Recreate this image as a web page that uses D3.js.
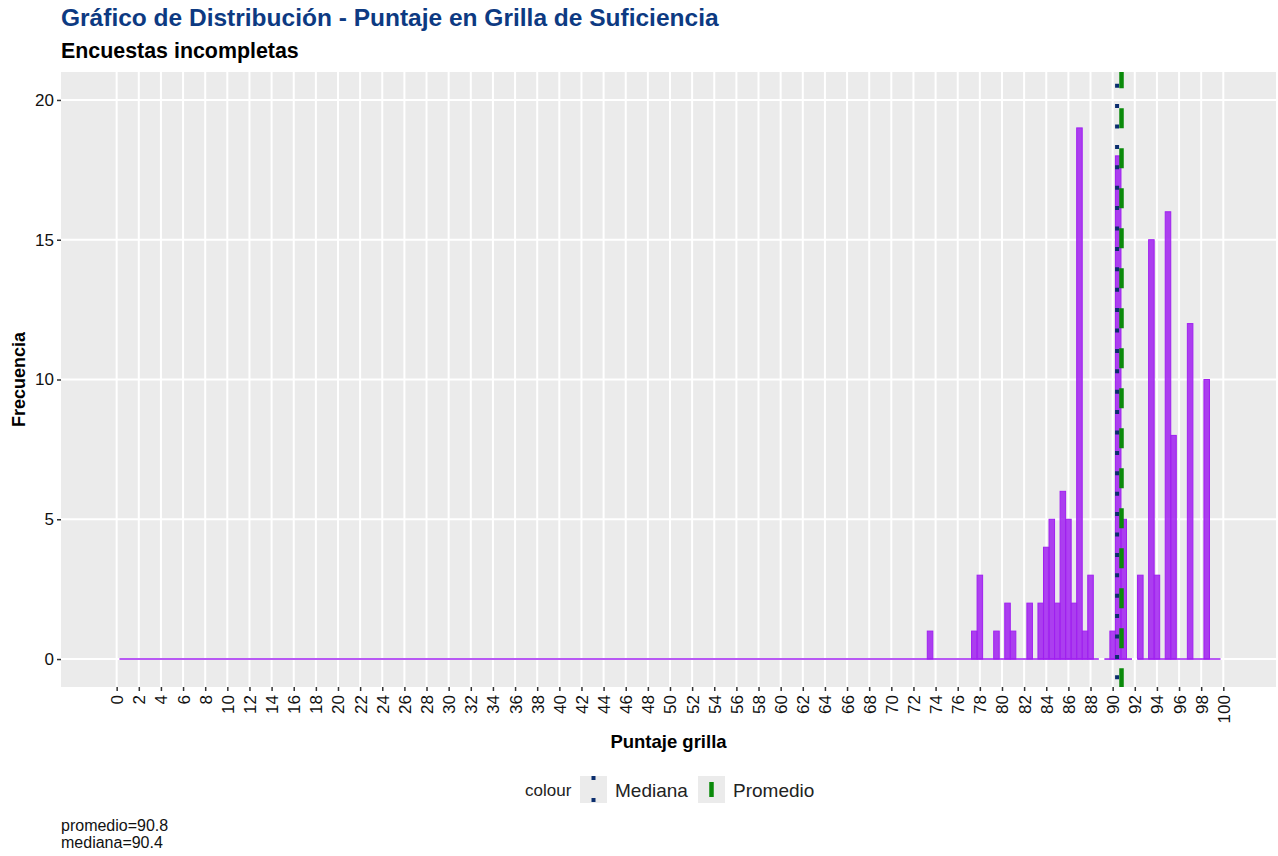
<!DOCTYPE html>
<html>
<head>
<meta charset="utf-8">
<script src="https://cdn.jsdelivr.net/npm/d3@7"></script>
<style>
body{margin:0;background:#fff;}
text{font-family:"Liberation Sans",Arial,Helvetica,sans-serif;}
</style>
</head>
<body>
<svg id="chart" width="1278" height="856"></svg>
<script>
// histogram bins (binwidth 0.5), centre value and count
const BIN_CENTERS = [73.5, 77.5, 78, 79.5, 80.5, 81, 82.5, 83.5, 84, 84.5, 85, 85.5, 86, 86.5, 87, 87.5, 88,
                     90, 90.5, 91, 92.5, 93.5, 94, 95, 95.5, 97, 98.5];
const BIN_COUNTS  = [1, 1, 3, 1, 2, 1, 2, 2, 4, 5, 2, 6, 5, 2, 19, 1, 3,
                     1, 18, 5, 3, 15, 3, 16, 8, 12, 10];
// stretches of empty bins (drawn as a flat outline at 0)
const ZERO_RUNS = [[0.25, 88.75], [89.25, 91.75], [92.25, 99.75]];
const X_TICKS = d3.range(0, 101, 2);
const Y_TICKS = [0, 5, 10, 15, 20];
const REF_NAMES  = ["Mediana", "Promedio"];
const REF_VALUES = [90.4, 90.8];
const CAPTION = ["promedio=90.8", "mediana=90.4"];

const CV = {
    PANEL_L: 61, PANEL_R: 1276, PANEL_T: 72, PANEL_B: 687,
    BIN_W: 0.5,
    PURPLE: "#a020f0",
    NAVY: "#0b2e6e",
    GREEN: "#0a8a0a",
    TITLE: "#0d3a82",
};

var svg = d3.select("#chart");

var x = d3.scaleLinear().domain([-5.03, 104.76]).range([CV.PANEL_L, CV.PANEL_R]);
var y = d3.scaleLinear().domain([-1, 21]).range([CV.PANEL_B, CV.PANEL_T]);

// titles
svg.append("text").attr("x", 61).attr("y", 26)
   .attr("font-size", 24.5).attr("font-weight", "bold").attr("fill", CV.TITLE)
   .text("Gráfico de Distribución - Puntaje en Grilla de Suficiencia");
svg.append("text").attr("x", 61).attr("y", 58)
   .attr("font-size", 21.4).attr("font-weight", "bold").attr("fill", "#000")
   .text("Encuestas incompletas");

// panel + grid
svg.append("rect").attr("x", CV.PANEL_L).attr("y", CV.PANEL_T)
   .attr("width", CV.PANEL_R-CV.PANEL_L).attr("height", CV.PANEL_B-CV.PANEL_T)
   .attr("fill", "#ebebeb");
svg.append("g").selectAll("line").data(X_TICKS).enter().append("line")
   .attr("x1", (d) => x(d)).attr("x2", (d) => x(d))
   .attr("y1", CV.PANEL_T).attr("y2", CV.PANEL_B)
   .attr("stroke", "#fff").attr("stroke-width", 2);
svg.append("g").selectAll("line").data(Y_TICKS).enter().append("line")
   .attr("x1", CV.PANEL_L).attr("x2", CV.PANEL_R)
   .attr("y1", (d) => y(d)).attr("y2", (d) => y(d))
   .attr("stroke", "#fff").attr("stroke-width", 2);

// empty bins
svg.append("g").selectAll("line").data(ZERO_RUNS).enter().append("line")
   .attr("x1", (d) => x(d[0])).attr("x2", (d) => x(d[1]))
   .attr("y1", y(0)).attr("y2", y(0))
   .attr("stroke", CV.PURPLE).attr("stroke-width", 1.6);

// bars
svg.append("g").selectAll("rect").data(BIN_CENTERS).enter().append("rect")
   .attr("x", (d) => x(d-CV.BIN_W/2))
   .attr("width", (d) => x(d+CV.BIN_W/2)-x(d-CV.BIN_W/2))
   .attr("y", (d,i) => y(BIN_COUNTS[i]))
   .attr("height", (d,i) => y(0)-y(BIN_COUNTS[i]))
   .attr("fill", CV.PURPLE).attr("fill-opacity", 0.85)
   .attr("stroke", CV.PURPLE).attr("stroke-width", 1);

// reference lines: median dotted, mean dashed
svg.append("line")
   .attr("x1", x(REF_VALUES[0])).attr("x2", x(REF_VALUES[0]))
   .attr("y1", CV.PANEL_T).attr("y2", CV.PANEL_B)
   .attr("stroke", CV.NAVY).attr("stroke-width", 4)
   .attr("stroke-dasharray", "4 16.4").attr("stroke-dashoffset", 8.7);
svg.append("line")
   .attr("x1", x(REF_VALUES[1])).attr("x2", x(REF_VALUES[1]))
   .attr("y1", CV.PANEL_T).attr("y2", CV.PANEL_B)
   .attr("stroke", CV.GREEN).attr("stroke-width", 4.5)
   .attr("stroke-dasharray", "20 20").attr("stroke-dashoffset", 3.7);

// axes
var xAxis = svg.append("g").attr("transform", "translate(0,"+CV.PANEL_B+")")
               .call(d3.axisBottom(x).tickValues(X_TICKS).tickSize(4).tickPadding(4));
xAxis.select(".domain").remove();
xAxis.selectAll(".tick line").attr("stroke", "#333").attr("stroke-width", 1.5);
xAxis.selectAll(".tick text")
     .attr("font-size", 17).attr("fill", "#111")
     .attr("font-family", "'Liberation Sans',Arial,sans-serif")
     .attr("transform", "rotate(-90)")
     .attr("text-anchor", "end")
     .attr("x", -8).attr("y", 0).attr("dy", "0.35em");

var yAxis = svg.append("g").attr("transform", "translate("+CV.PANEL_L+",0)")
               .call(d3.axisLeft(y).tickValues(Y_TICKS).tickSize(4).tickPadding(3));
yAxis.select(".domain").remove();
yAxis.selectAll(".tick line").attr("stroke", "#333").attr("stroke-width", 1.5);
yAxis.selectAll(".tick text")
     .attr("font-size", 17).attr("fill", "#111")
     .attr("font-family", "'Liberation Sans',Arial,sans-serif");

svg.append("text").attr("x", (CV.PANEL_L+CV.PANEL_R)/2).attr("y", 748)
   .attr("text-anchor", "middle").attr("font-size", 18.5).attr("font-weight", "bold")
   .text("Puntaje grilla");
svg.append("text").attr("transform", "translate(25,"+((CV.PANEL_T+CV.PANEL_B)/2)+") rotate(-90)")
   .attr("text-anchor", "middle").attr("font-size", 18).attr("font-weight", "bold")
   .text("Frecuencia");

// legend
var leg = svg.append("g");
leg.append("text").attr("x", 525).attr("y", 796).attr("font-size", 17).attr("fill", "#222").text("colour");
var keyX = [580, 698];
leg.selectAll("rect.key").data(REF_NAMES).enter().append("rect").classed("key", true)
   .attr("x", (d,i) => keyX[i]).attr("y", 776).attr("width", 27).attr("height", 27)
   .attr("fill", "#ebebeb");
leg.append("line").attr("x1", keyX[0]+13.5).attr("x2", keyX[0]+13.5).attr("y1", 776).attr("y2", 803)
   .attr("stroke", CV.NAVY).attr("stroke-width", 4).attr("stroke-dasharray", "4 18");
leg.append("line").attr("x1", keyX[1]+13.5).attr("x2", keyX[1]+13.5).attr("y1", 782).attr("y2", 797)
   .attr("stroke", CV.GREEN).attr("stroke-width", 4.5);
leg.selectAll("text.lab").data(REF_NAMES).enter().append("text").classed("lab", true)
   .attr("x", (d,i) => keyX[i]+35).attr("y", 797)
   .attr("font-size", 19).attr("fill", "#222").text((d) => d);

// caption
svg.append("g").selectAll("text").data(CAPTION).enter().append("text")
   .attr("x", 61).attr("y", (d,i) => 831+i*16.5)
   .attr("font-size", 16).attr("fill", "#111").text((d) => d);
</script>
</body>
</html>
